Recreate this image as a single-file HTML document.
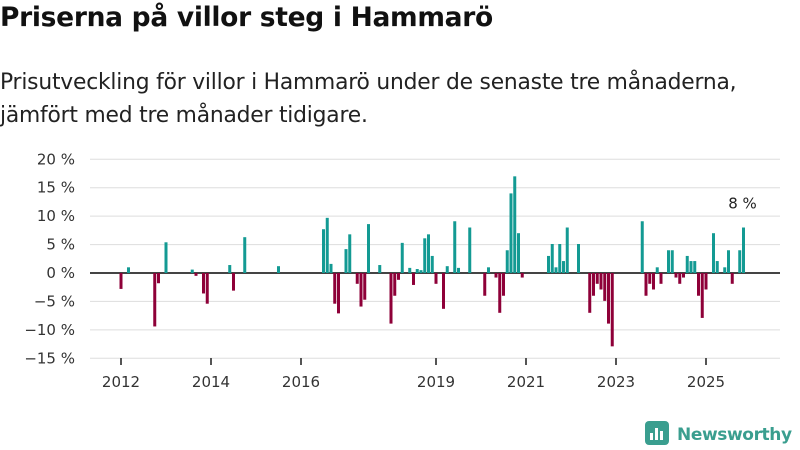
<!DOCTYPE html>
<html><head><meta charset="utf-8"><style>
body{margin:0;width:800px;height:450px;background:#fff;font-family:"Liberation Sans","DejaVu Sans",sans-serif;overflow:hidden;position:relative}
#title{position:absolute;left:0;top:2px;font-size:26.5px;font-weight:bold;color:#111;font-family:"DejaVu Sans",sans-serif;letter-spacing:-0.3px}
#sub{position:absolute;left:0;top:66px;font-size:21.8px;color:#222;line-height:33px;font-family:"DejaVu Sans",sans-serif;letter-spacing:-0.2px}
svg{position:absolute;left:0;top:0}
</style></head><body>
<div id="title">Priserna på villor steg i Hammarö</div>
<div id="sub">Prisutveckling för villor i Hammarö under de senaste tre månaderna,<br>jämfört med tre månader tidigare.</div>
<svg id="chart" width="800" height="450"></svg>
<script>
const months=[0,2,9,10,12,19,20,22,23,29,30,33,42,54,55,56,57,58,60,61,63,64,65,66,69,72,73,74,75,77,78,79,80,81,82,83,84,86,87,89,90,93,97,98,100,101,102,103,104,105,106,107,114,115,116,117,118,119,122,125,126,127,128,129,130,131,139,140,141,142,143,144,146,147,148,149,150,151,152,153,154,155,156,158,159,161,162,163,165,166];
const values=[-2.8,1.0,-9.4,-1.8,5.4,0.6,-0.5,-3.6,-5.4,1.4,-3.1,6.3,1.2,7.7,9.7,1.6,-5.4,-7.1,4.2,6.8,-1.9,-5.9,-4.7,8.6,1.4,-8.9,-4.0,-1.2,5.3,0.9,-2.1,0.7,0.5,6.1,6.8,3.0,-1.9,-6.3,1.2,9.1,0.9,8.0,-4.0,1.0,-0.8,-7.0,-4.0,4.0,14.0,17.0,7.0,-0.8,3.0,5.1,1.0,5.1,2.1,8.0,5.1,-7.0,-4.0,-1.9,-2.9,-4.9,-8.9,-12.9,9.1,-4.0,-1.9,-2.9,1.0,-1.9,4.0,4.0,-0.8,-1.9,-0.8,3.0,2.1,2.1,-4.0,-7.9,-2.9,7.0,2.1,1.0,4.0,-1.9,4.0,8.0];
const yTicks=[20,15,10,5,0,-5,-10,-15];
const xTickYears=[2012,2014,2016,2019,2021,2023,2025];
const lastLabel="8 %";
const NS="http://www.w3.org/2000/svg";
const svg=document.getElementById('chart');
const y=v=>273-v*5.686;
const x=m=>121+m*3.75;
function mk(t,a){const e=document.createElementNS(NS,t);for(const k in a)e.setAttribute(k,a[k]);svg.appendChild(e);return e;}
yTicks.forEach(t=>{
  const g=mk('line',{x1:90,x2:780,y1:y(t),y2:y(t),stroke:t===0?'#444':'#ddd','stroke-width':t===0?2:1});
  
  
  const l=mk('text',{x:75,y:y(t)+5,'text-anchor':'end','font-size':15,fill:'#333','font-family':'DejaVu Sans,sans-serif'});
  l.textContent=(t<0?'−'+(-t):t)+' %';
  
  
});
xTickYears.forEach(yr=>{
  const xx=x((yr-2012)*12);
  const tk=mk('line',{x1:xx,x2:xx,y1:358,y2:365,stroke:'#555','stroke-width':2});
  
  
  const l=mk('text',{x:xx,y:387,'text-anchor':'middle','font-size':15,fill:'#333','font-family':'DejaVu Sans,sans-serif'});
  l.textContent=yr;
  
  
});
months.forEach((m,i)=>{
  const v=values[i];
  const r=mk('rect',{x:x(m)-1.5,width:3,y:v>=0?y(v):273,height:Math.abs(y(v)-273),fill:v>=0?'#139a93':'#8e0038'});
  
  
});
const lm=months[months.length-1];
const lt=mk('text',{x:x(lm)-1,y:y(values[values.length-1])-19,'text-anchor':'middle','font-size':15,fill:'#222','font-family':'DejaVu Sans,sans-serif'});
lt.textContent=lastLabel;


const lg=mk('g',{});


lg.appendChild(mk('rect',{x:645,y:421,width:24,height:24,rx:4,fill:'#3a9e8f'}));
[[650,433,3,7],[655,428,3,12],[660,431,3,9]].forEach(b=>{lg.appendChild(mk('rect',{x:b[0],y:b[1],width:b[2],height:b[3],fill:'#fff'}));});
const lt2=mk('text',{x:677,y:440,'font-size':17,'font-weight':'bold',fill:'#3a9e8f','font-family':'DejaVu Sans,sans-serif','letter-spacing':'-0.4'});
lt2.textContent='Newsworthy';
lg.appendChild(lt2);
</script>
</body></html>
